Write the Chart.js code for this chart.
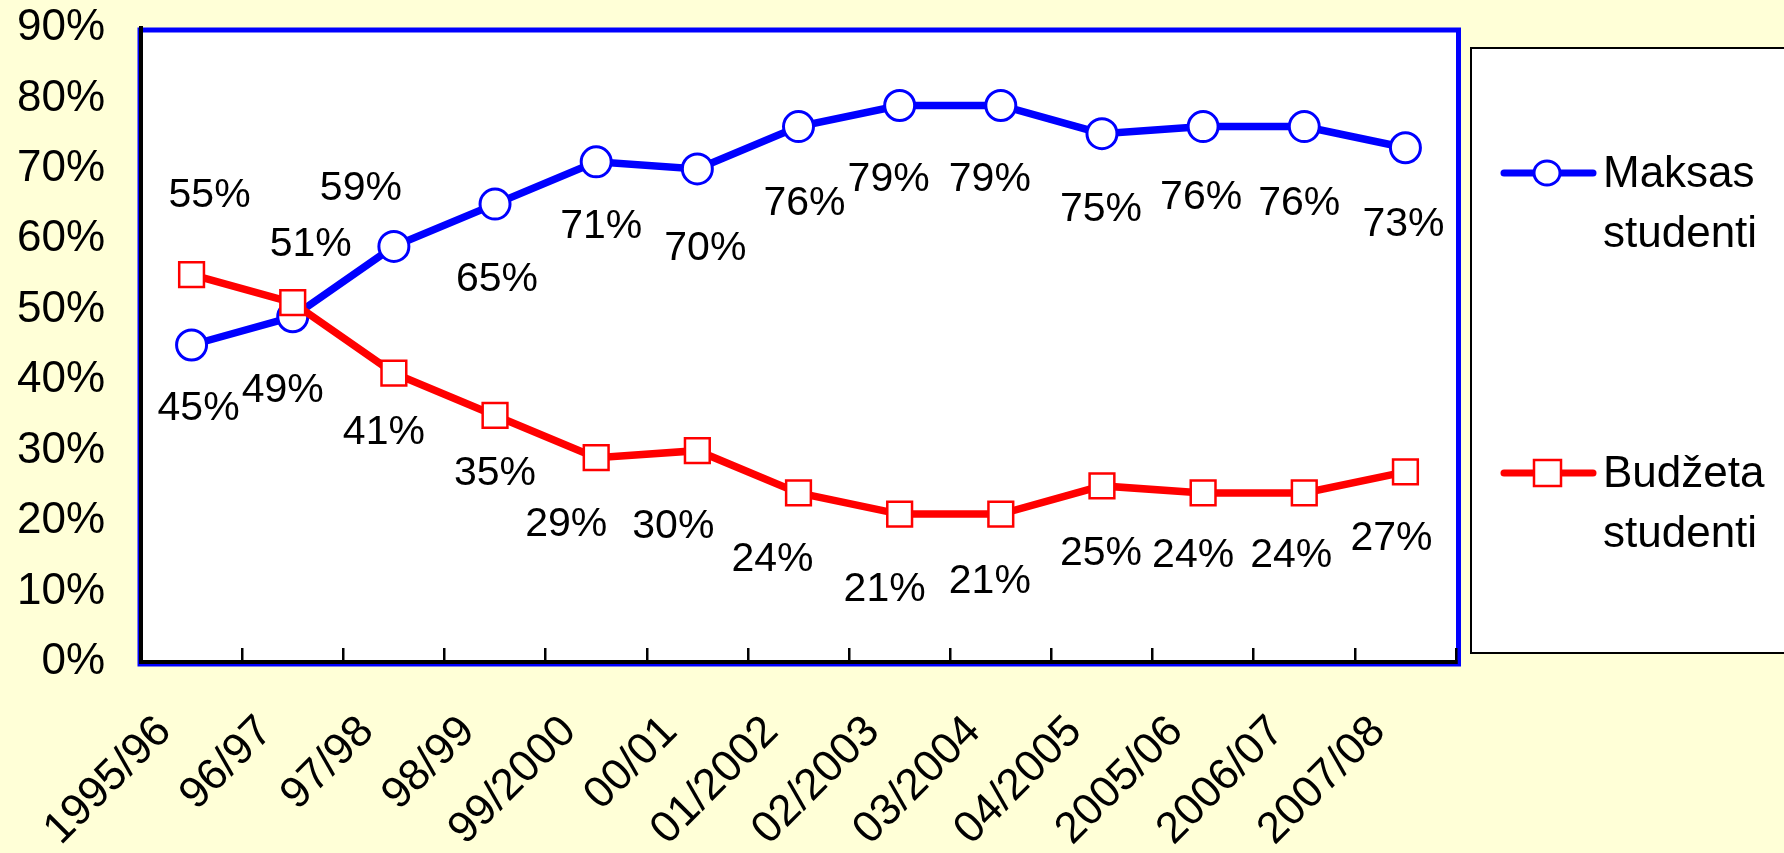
<!DOCTYPE html>
<html><head><meta charset="utf-8">
<script src="https://cdn.jsdelivr.net/npm/chart.js@4/dist/chart.umd.min.js"></script>
<style>html,body{margin:0;padding:0;background:#FFFFD7;overflow:hidden}</style>
</head><body>
<canvas id="c" width="1784" height="853" style="display:block;width:1784px;height:853px"></canvas>
<script>
const categories = ['1995/96','96/97','97/98','98/99','99/2000','00/01','01/2002','02/2003','03/2004','04/2005','2005/06','2006/07','2007/08'];
const maksas = [45,49,59,65,71,70,76,79,79,75,76,76,73];
const budzeta = [55,51,41,35,29,30,24,21,21,25,24,24,27];
const yTickLabels = ['0%','10%','20%','30%','40%','50%','60%','70%','80%','90%'];
const seriesNames = [['Maksas','studenti'],['Budžeta','studenti']];

// label placement (layout, px offsets from each point)
const maksasLabelOffsets = [[7,64],[-10,74],[-33,-58],[2,76],[5,65],[8,80],[6,77],[-11,74],[-11,74],[-1,76],[-2,71],[-5,77],[-2,77]];
const budzetaLabelOffsets = [[18,-79],[18,-58],[-10,60],[0,58],[-30,67],[-24,76],[-26,67],[-15,76],[-11,68],[-1,68],[-10,63],[-13,63],[-14,67]];

const FONT = '"Liberation Sans", Arial, sans-serif';
const BG = '#FFFFD7';

const framePlugin = {
  id: 'frame',
  beforeDraw(chart) {
    const {ctx, chartArea: a} = chart;
    ctx.save();
    ctx.fillStyle = BG;
    ctx.fillRect(0, 0, chart.width, chart.height);
    ctx.fillStyle = '#FFFFFF';
    ctx.fillRect(a.left, a.top, a.right - a.left, a.bottom - a.top);
    ctx.strokeStyle = '#0000FF';
    ctx.lineWidth = 5;
    ctx.strokeRect(a.left - 1, a.top + 2, a.right - a.left + 3.5, a.bottom - a.top);
    ctx.restore();
  }
};

const labelsPlugin = {
  id: 'pointLabels',
  afterDatasetsDraw(chart) {
    const {ctx} = chart;
    ctx.save();
    ctx.font = '41px ' + FONT;
    ctx.fillStyle = '#000';
    ctx.textAlign = 'center';
    ctx.textBaseline = 'middle';
    chart.data.datasets.forEach((ds, di) => {
      const meta = chart.getDatasetMeta(di);
      meta.data.forEach((pt, i) => {
        const off = ds.labelOffsets[i];
        ctx.fillText(ds.data[i] + '%', pt.x + off[0], pt.y + off[1]);
      });
    });
    ctx.restore();
  }
};

const legendPlugin = {
  id: 'sideLegend',
  afterDraw(chart) {
    const {ctx} = chart;
    ctx.save();
    ctx.fillStyle = '#FFFFFF';
    ctx.fillRect(1471, 48, 330, 605);
    ctx.strokeStyle = '#000';
    ctx.lineWidth = 2;
    ctx.strokeRect(1471, 48, 330, 605);
    const order = [1, 0];
    const ys = [173, 473];
    order.forEach((di, k) => {
      const ds = chart.data.datasets[di];
      const y = ys[k];
      ctx.strokeStyle = ds.borderColor;
      ctx.lineWidth = 7;
      ctx.lineCap = 'round';
      ctx.beginPath(); ctx.moveTo(1504, y); ctx.lineTo(1593, y); ctx.stroke();
      ctx.fillStyle = ds.pointBackgroundColor; ctx.strokeStyle = ds.borderColor; ctx.lineWidth = ds.pointBorderWidth;
      ctx.beginPath();
      if (ds.pointStyle === 'circle') {
        ctx.ellipse(1547, y, 13, 12, 0, 0, Math.PI * 2);
      } else {
        ctx.rect(1534, y - 13, 27, 26);
      }
      ctx.fill(); ctx.stroke();
      ctx.fillStyle = '#000';
      ctx.font = '44px ' + FONT;
      ctx.textAlign = 'left';
      ctx.textBaseline = 'middle';
      ctx.fillText(seriesNames[k][0], 1603, y + 2);
      ctx.fillText(seriesNames[k][1], 1603, y + 62);
    });
    ctx.restore();
  }
};

new Chart(document.getElementById('c'), {
  type: 'line',
  data: {
    labels: categories,
    datasets: [
      {
        label: seriesNames[1].join(' '),
        data: budzeta,
        labelOffsets: budzetaLabelOffsets,
        borderColor: '#FF0000',
        borderWidth: 7.5,
        pointStyle: 'rect',
        pointRadius: 17.5,
        pointBorderWidth: 2.5,
        pointBackgroundColor: '#FFFFFF',
        pointBorderColor: '#FF0000',
        tension: 0,
        order: 0
      },
      {
        label: seriesNames[0].join(' '),
        data: maksas,
        labelOffsets: maksasLabelOffsets,
        borderColor: '#0000FF',
        borderWidth: 7.5,
        pointStyle: 'circle',
        pointRadius: 15,
        pointBorderWidth: 3,
        pointBackgroundColor: '#FFFFFF',
        pointBorderColor: '#0000FF',
        tension: 0,
        order: 1
      }
    ]
  },
  options: {
    responsive: false,
    animation: false,
    devicePixelRatio: 1,
    layout: { padding: { left: 0, top: 28, right: 328, bottom: 0 } },
    plugins: { legend: { display: false }, tooltip: { enabled: false } },
    scales: {
      x: {
        offset: true,
        grid: { offset: true, drawOnChartArea: false, drawTicks: true, tickLength: -14, color: '#000', lineWidth: 2.5 },
        border: { display: true, color: '#000', width: 4 },
        ticks: { color: '#000', font: { family: FONT, size: 44 }, minRotation: 45, maxRotation: 45, autoSkip: false, padding: 58, labelOffset: -27 },
        afterFit(s) { s.height = 191; }
      },
      y: {
        min: 0, max: 90,
        grid: { display: true, drawOnChartArea: false, drawTicks: true, tickLength: 36, tickColor: 'rgba(0,0,0,0)' },
        border: { display: true, color: '#000', width: 4 },
        ticks: { stepSize: 10, color: '#000', font: { family: FONT, size: 44 }, padding: 0,
          callback: (v) => yTickLabels[Math.round(v / 10)] },
        afterFit(s) { s.width = 141; }
      }
    }
  },
  plugins: [framePlugin, labelsPlugin, legendPlugin]
});
</script>
</body></html>
